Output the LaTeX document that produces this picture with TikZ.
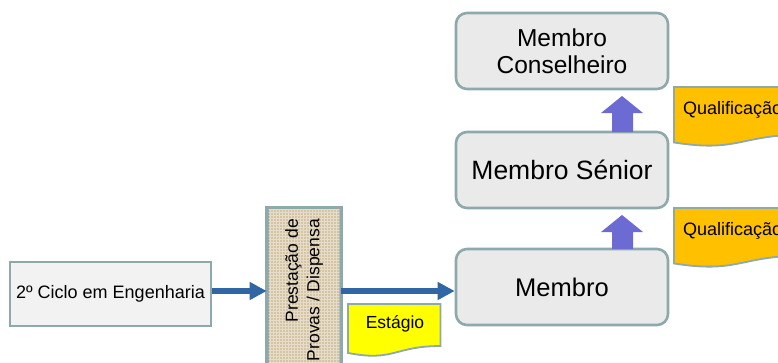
\documentclass[tikz,border=0pt]{standalone}
\usepackage{fontspec}
\setmainfont{Liberation Sans}
\usetikzlibrary{arrows.meta,patterns,calc}
\definecolor{bordc}{HTML}{8DA9AB}
\definecolor{boxfill}{HTML}{EAEAEA}
\definecolor{lightfill}{HTML}{F2F2F2}
\definecolor{arrblue}{HTML}{2F66A3}
\definecolor{purp}{HTML}{6B6BD3}
\definecolor{orangefill}{HTML}{FFC000}
\definecolor{yellowfill}{HTML}{FFFF00}
\definecolor{burlap}{HTML}{D3C4A6}
\definecolor{burlapline}{HTML}{E6DCC8}
\tikzset{
  roundbox/.style={draw=bordc, line width=2.6pt, fill=boxfill, rounded corners=11pt,
    minimum width=212pt, align=center, inner sep=0pt},
  plainbox/.style={draw=bordc, line width=2.6pt, fill=lightfill, inner sep=0pt},
  bluearrow/.style={draw=arrblue, line width=6pt, -{Triangle[length=17pt,width=17pt]}},
  docframe/.style={minimum width=#1, inner sep=0pt, anchor=north west},
  docline/.style={draw=bordc, line width=1.8pt},
  doctext/.style={font=\fontsize{18}{20}\selectfont, inner sep=0pt},
}
\newcommand{\docpath}[2]{% node name, fill colour
  \path[docline, fill=#2] (#1.north west) -- (#1.north east)
    -- ($(#1.north east)!0.802!(#1.south east)$)
    .. controls ($(#1.north)!0.802!(#1.south)$) and ($(#1.north)!1.107!(#1.south)$)
    .. ($(#1.north west)!0.934!(#1.south west)$) -- cycle;}
\begin{document}
\begin{tikzpicture}[x=1pt,y=-1pt]
\useasboundingbox (0,0) rectangle (778,362);
\clip (0,0) rectangle (778,362);
\fill[white] (0,0) rectangle (778,362);

% left box
\node[plainbox, minimum width=201pt, minimum height=64pt,
  font=\fontsize{18}{20}\selectfont] (ciclo) at (110.5,294) {2º Ciclo em Engenharia};

% Prestacao box
\node[draw=bordc, line width=2.6pt, fill=burlap, minimum width=72pt, minimum height=170pt,
  inner sep=0pt, anchor=north] (prest) at (304,207) {};
\path[pattern=grid, pattern color=burlapline] ($(prest.north west)+(2,2)$) rectangle ($(prest.south east)+(-2,-2)$);
\draw[bordc, line width=2.6pt] (prest.north west) rectangle (prest.south east);
\node[rotate=90, anchor=east, align=right, inner sep=0pt,
  font=\fontsize{17.5}{21.5}\selectfont] (prestxt) at (304,219) {Prestação de\\Provas / Dispensa};

% Membro boxes
\node[roundbox, minimum height=76pt, font=\fontsize{24.5}{27.5}\selectfont] (cons) at (562,51) {Membro\\Conselheiro};
\node[roundbox, minimum height=76pt, font=\fontsize{26.5}{28}\selectfont] (sen) at (562,170) {Membro Sénior};
\node[roundbox, minimum height=76pt, font=\fontsize{25.5}{28}\selectfont] (mem) at (562,287) {Membro};

% blue arrows
\draw[bluearrow] (ciclo.east |- 0,291) -- (prest.west |- 0,291);
\draw[bluearrow] (prest.east |- 0,291) -- (mem.west |- 0,291);

% purple block arrows
\fill[purp] (612,132) -- (612,113) -- (601,113) -- (622,96) -- (643,113) -- (633,113) -- (633,132) -- cycle;
\fill[purp] (612,249) -- (612,232) -- (601,232) -- (622,215) -- (643,232) -- (633,232) -- (633,249) -- cycle;

% documents
\node[docframe=130pt, minimum height=59pt] (q1) at (674,87) {};
\docpath{q1}{orangefill}
\node[doctext, anchor=west] (q1t) at (683,110) {Qualificação};

\node[docframe=130pt, minimum height=59pt] (q2) at (674,208) {};
\docpath{q2}{orangefill}
\node[doctext, anchor=west] (q2t) at (683,231) {Qualificação};

\node[docframe=92pt, minimum height=52pt] (est) at (348,304) {};
\docpath{est}{yellowfill}
\node[doctext, font=\fontsize{17.5}{20}\selectfont] (estt) at (395,324) {Estágio};
\end{tikzpicture}
\end{document}
